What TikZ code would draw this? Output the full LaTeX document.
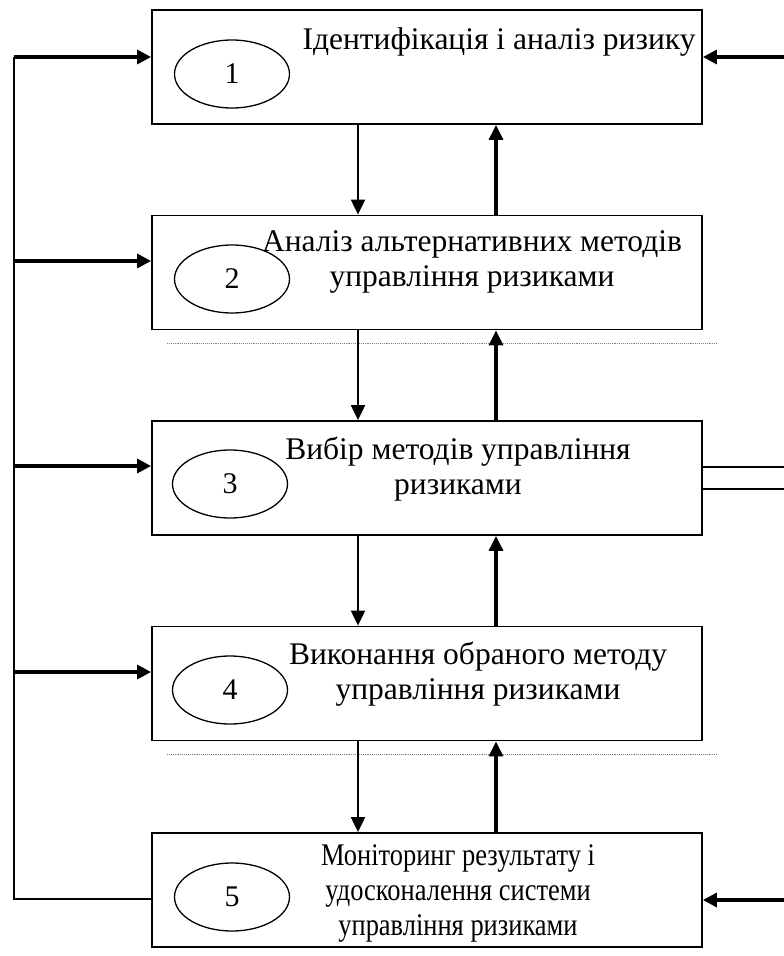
\documentclass[tikz,border=0pt]{standalone}
\usepackage{fontspec}
\setmainfont{Liberation Serif}
\usetikzlibrary{shapes.geometric,arrows.meta}
\tikzstyle{stage}=[rectangle, draw, line width=1.8pt, minimum width=550pt, minimum height=114pt]
\tikzstyle{num}=[ellipse, draw, line width=1.3pt, minimum width=115pt, minimum height=68pt, inner sep=0pt, font=\fontsize{30}{32}\selectfont]
\tikzstyle{stagetext}=[align=center, inner sep=0pt, font=\fontsize{31.5}{35}\selectfont]
\tikzstyle{dnarr}=[-{Triangle[length=15pt,width=14pt]}, line width=2pt]
\tikzstyle{uparr}=[-{Triangle[length=15pt,width=14pt]}, line width=3.2pt]
\tikzstyle{feed}=[-{Triangle[length=14pt,width=14pt]}, line width=3.2pt]
\tikzstyle{sep}=[densely dotted, gray, line width=0.9pt]

\begin{document}
\begin{tikzpicture}[x=1pt, y=-1pt]
    \useasboundingbox (0,0) rectangle (784,956);
    % stages
    \node[stage] (b1) at (427, 67)   {};
    \node[stage] (b2) at (427, 272.5) {};
    \node[stage] (b3) at (427, 478)  {};
    \node[stage] (b4) at (427, 683.5) {};
    \node[stage] (b5) at (427, 890)  {};
    \node[num] (e1) at (232, 74)  {1};
    \node[num] (e2) at (232, 279) {2};
    \node[num] (e3) at (230, 484) {3};
    \node[num] (e4) at (230, 690) {4};
    \node[num] (e5) at (232, 897) {5};
    \node[stagetext] (t1) at (499, 42)  {Ідентифікація і аналіз ризику};
    \node[stagetext] (t2) at (472, 262) {Аналіз альтернативних методів\\управління ризиками};
    \node[stagetext] (t3) at (458, 469) {Вибір методів управління\\ризиками};
    \node[stagetext] (t4) at (478, 674) {Виконання обраного методу\\управління ризиками};
    \node[stagetext] (t5) at (458, 893) {\scalebox{0.84}[1]{Моніторинг результату і}\\\scalebox{0.84}[1]{удосконалення системи}\\\scalebox{0.84}[1]{управління ризиками}};
    % separators
    \draw[sep] (167, 343) -- (717, 343);
    \draw[sep] (167, 754) -- (717, 754);
    % between stages
    \draw[dnarr] ([xshift=-69pt]b1.south) -- ([xshift=-69pt]b2.north);
    \draw[dnarr] ([xshift=-69pt]b2.south) -- ([xshift=-69pt]b3.north);
    \draw[dnarr] ([xshift=-69pt]b3.south) -- ([xshift=-69pt]b4.north);
    \draw[dnarr] ([xshift=-69pt]b4.south) -- ([xshift=-69pt]b5.north);
    \draw[uparr] ([xshift=69pt]b2.north) -- ([xshift=69pt]b1.south);
    \draw[uparr] ([xshift=69pt]b3.north) -- ([xshift=69pt]b2.south);
    \draw[uparr] ([xshift=69pt]b4.north) -- ([xshift=69pt]b3.south);
    \draw[uparr] ([xshift=69pt]b5.north) -- ([xshift=69pt]b4.south);
    % feedback on the left
    \coordinate (L1) at (14, 57);
    \coordinate (L2) at (14, 261);
    \coordinate (L3) at (14, 466);
    \coordinate (L4) at (14, 672);
    \coordinate (L5) at (14, 899);
    \draw[line width=1.6pt] (b5.west |- L5) -- (L5) -- (L1);
    \draw[feed] (L1) -- (L1 -| b1.west);
    \draw[feed] (L2) -- (L2 -| b2.west);
    \draw[feed] (L3) -- (L3 -| b3.west);
    \draw[feed] (L4) -- (L4 -| b4.west);
    % right side
    \coordinate (R1) at (784, 57);
    \coordinate (R3a) at (784, 467);
    \coordinate (R3b) at (784, 489);
    \coordinate (R5) at (784, 900);
    \draw[feed] (R1) -- (R1 -| b1.east);
    \draw[line width=1.6pt] (b3.east |- R3a) -- (R3a);
    \draw[line width=1.6pt] (b3.east |- R3b) -- (R3b);
    \draw[feed] (R5) -- (R5 -| b5.east);
\end{tikzpicture}
\end{document}
